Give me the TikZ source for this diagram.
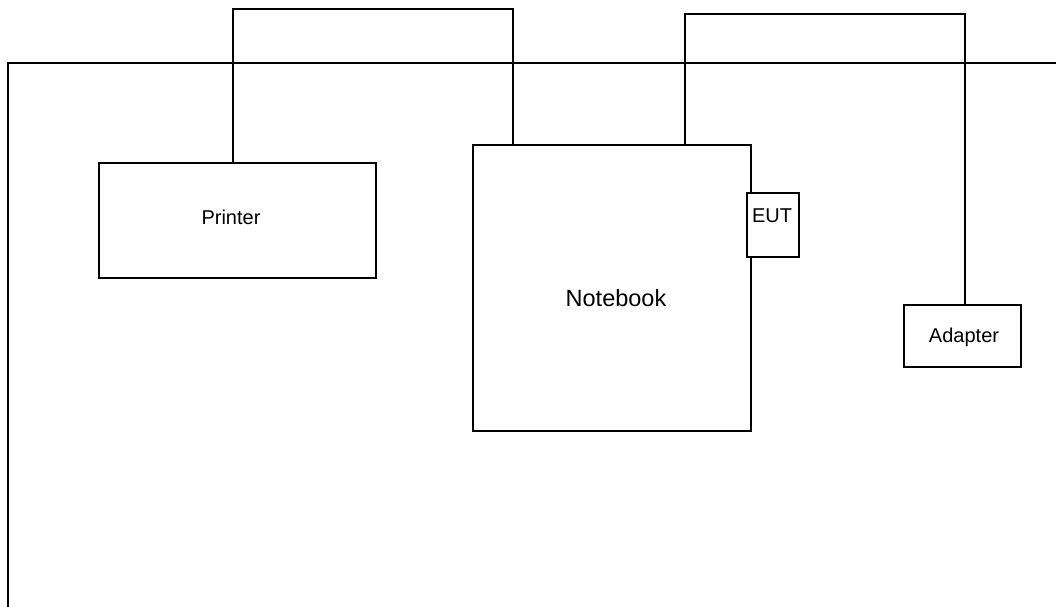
\documentclass[tikz,border=0pt]{standalone}
\usepackage{fontspec}
\setmainfont{Liberation Sans}
\usepackage{tikz}

\tikzset{
  unit/.style={draw, line width=1.5pt, inner sep=0pt},
  unittxt/.style={inner sep=0pt, font=\fontsize{20}{22}\selectfont},
  cable/.style={line width=1.5pt}
}

\begin{document}
\begin{tikzpicture}[x=1pt, y=-1pt]
\useasboundingbox (0,0) rectangle (1056,606);
% table edge
\coordinate (t1) at (1060,63);
\coordinate (t2) at (8,63);
\coordinate (t3) at (8,610);
\draw[cable] (t1) -- (t2) -- (t3);
% units
\node[unit, minimum width=277pt, minimum height=115pt] (printer) at (237.5,220.5) {};
\node[unittxt] (printertxt) at (231,217) {Printer};
\node[unit, minimum width=278pt, minimum height=286pt] (notebook) at (612,288) {};
\node[unittxt, font=\fontsize{23.5}{26}\selectfont] (notebooktxt) at (616,298) {Notebook};
\node[unit, fill=white, minimum width=52pt, minimum height=64pt] (eut) at (773,225) {};
\node[unittxt] (euttxt) at (772,216) {EUT};
\node[unit, minimum width=117pt, minimum height=62pt] (adapter) at (962.5,336) {};
\node[unittxt] (adaptertxt) at (964,337) {Adapter};
% cables
\coordinate (c0) at (233,9);
\coordinate (c1) at (513,9);
\coordinate (c2) at (685,14);
\coordinate (c3) at (965,14);
\draw[cable] (c0 |- printer.north) -- (c0) -- (c1) -- (c1 |- notebook.north);
\draw[cable] (c2 |- notebook.north) -- (c2) -- (c3) -- (c3 |- adapter.north);
\end{tikzpicture}
\end{document}
